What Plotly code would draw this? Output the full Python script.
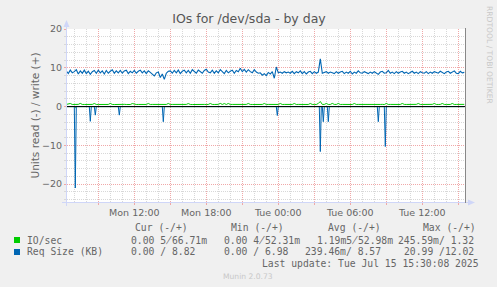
import pandas as pd
import plotly.graph_objects as go

# ---------------- data ----------------
start_time = "2025-07-14 06:20"
n_points = 200  # 10-minute samples up to Tue 15:30

req_write = [
    9.2, 8.5, 9.4, 8.7,
    9.0, 9.5, 8.4, 9.2, 8.6, 9.4,
    8.5, 9.1, 8.3, 9.0, 9.3, 8.6,
    9.4, 8.7, 9.2, 8.4, 9.3, 8.6,
    9.1, 9.5, 8.6, 9.2, 8.7, 9.3,
    8.6, 9.2, 9.4, 8.5, 9.1, 8.7,
    9.3, 8.6, 9.1, 9.4, 8.7, 9.2,
    8.5, 9.2, 8.8, 8.3, 7.9, 8.7,
    8.9, 7.5, 8.4, 7.0, 8.6, 9.1,
    9.2, 8.6, 9.3, 8.7, 9.4, 8.5,
    9.1, 9.4, 8.7, 9.3, 8.6, 9.5,
    9.0, 8.6, 9.4, 9.1, 8.6, 9.3,
    9.6, 8.9, 8.7, 9.4, 8.6, 9.2,
    8.7, 9.5, 9.0, 8.5, 9.3, 8.7,
    9.1, 9.4, 8.6, 9.3, 9.0, 9.9,
    9.0, 9.6, 8.9, 9.5, 9.0, 8.7,
    9.5, 8.9, 8.6, 8.7, 8.1, 8.5,
    8.0, 8.8, 8.4, 9.0, 7.3, 10.2,
    8.7, 8.9, 8.6, 9.0, 8.7, 8.9,
    8.6, 9.1, 8.5, 9.0, 8.7, 9.2,
    8.5, 9.0, 8.4, 8.9, 9.1, 8.5,
    9.0, 8.6, 8.9, 12.3, 8.6, 8.8,
    9.0, 8.6, 8.9, 8.7, 8.5, 9.0,
    8.6, 8.9, 9.1, 8.5, 8.9, 8.6,
    9.1, 8.4, 8.9, 8.6, 9.2, 8.7,
    8.6, 9.0, 8.7, 8.5, 8.9, 8.6,
    9.0, 8.7, 8.3, 8.9, 9.1, 8.6,
    8.7, 9.3, 8.6, 8.9, 8.5, 9.0,
    8.6, 8.9, 9.1, 8.6, 8.9, 8.5,
    8.9, 9.1, 8.6, 8.9, 8.5, 9.0,
    8.7, 8.6, 9.0, 8.5, 8.9, 8.6,
    9.0, 8.7, 8.6, 9.1, 8.7, 8.5,
    8.9, 9.1, 8.6, 8.9, 9.2, 8.6,
    8.5, 9.1, 8.7, 8.82,
]

io_write = [
    0.55, 0.58, 0.80, 0.54,
    0.56, 0.53, 0.57, 0.82, 0.55, 0.54,
    0.58, 0.55, 0.53, 0.56, 0.80, 0.55,
    0.54, 0.57, 0.55, 0.52, 0.56, 0.55,
    0.82, 0.55, 0.53, 0.57, 0.54, 0.56,
    0.55, 0.58, 0.54, 0.56, 0.53, 0.78,
    0.56, 0.54, 0.55, 0.57, 0.53, 0.55,
    0.55, 0.80, 0.54, 0.56, 0.55, 0.53,
    0.57, 0.55, 0.54, 0.56, 0.55, 0.80,
    0.54, 0.56, 0.55, 0.53, 0.57, 0.55,
    0.55, 0.54, 0.56, 0.78, 0.55, 0.53,
    0.56, 0.55, 0.54, 0.57, 0.55, 0.56,
    0.53, 0.55, 0.80, 0.56, 0.54, 0.55,
    0.57, 0.82, 0.55, 0.78, 0.54, 0.80,
    0.55, 0.56, 0.54, 0.55, 0.57, 0.53,
    0.55, 0.54, 0.56, 0.80, 0.55, 0.54,
    0.56, 0.55, 0.53, 0.57, 0.55, 0.80,
    0.54, 0.56, 0.55, 0.53, 0.57, 0.55,
    0.55, 0.80, 0.54, 0.56, 0.55, 0.53,
    0.56, 0.55, 0.80, 0.54, 0.56, 0.55,
    0.53, 0.55, 0.57, 0.54, 0.80, 0.55,
    0.56, 0.54, 0.80, 1.32, 0.55, 0.56,
    0.80, 0.55, 0.54, 0.82, 0.56, 0.55,
    0.80, 0.54, 0.56, 0.55, 0.53, 0.57,
    0.55, 0.54, 0.80, 0.55, 0.56, 0.54,
    0.56, 0.55, 0.53, 0.57, 0.55, 0.54,
    0.55, 0.56, 0.54, 0.55, 0.57, 0.53,
    0.80, 0.55, 0.56, 0.54, 0.55, 0.56,
    0.54, 0.55, 0.80, 0.56, 0.55, 0.53,
    0.56, 0.55, 0.54, 0.57, 0.80, 0.55,
    0.55, 0.54, 0.56, 0.55, 0.53, 0.57,
    0.80, 0.55, 0.54, 0.56, 0.80, 0.55,
    0.54, 0.56, 0.55, 0.80, 0.54, 0.56,
    0.55, 0.54, 0.57, 0.57,
]

# read side (plotted negative): sparse samples
req_read_times = [
    "2025-07-14 06:20", "2025-07-14 07:00", "2025-07-14 07:05", "2025-07-14 07:10",
    "2025-07-14 08:15", "2025-07-14 08:20", "2025-07-14 08:25",
    "2025-07-14 08:40", "2025-07-14 08:45", "2025-07-14 08:50",
    "2025-07-14 10:40", "2025-07-14 10:45", "2025-07-14 10:50",
    "2025-07-14 14:20", "2025-07-14 14:25", "2025-07-14 14:30",
    "2025-07-14 23:50", "2025-07-14 23:55", "2025-07-15 00:00",
    "2025-07-15 03:25", "2025-07-15 03:30", "2025-07-15 03:35",
    "2025-07-15 03:40", "2025-07-15 03:45", "2025-07-15 03:50",
    "2025-07-15 04:05", "2025-07-15 04:10", "2025-07-15 04:15",
    "2025-07-15 08:15", "2025-07-15 08:20", "2025-07-15 08:25",
    "2025-07-15 08:50", "2025-07-15 08:55", "2025-07-15 09:00",
    "2025-07-15 15:30",
]
req_read = [
    0.0, 0.0, 20.99, 0.0,
    0.0, 3.8, 0.0,
    0.0, 2.2, 0.0,
    0.0, 2.2, 0.0,
    0.0, 3.9, 0.0,
    0.0, 2.3, 0.0,
    0.0, 11.6, 0.0,
    0.0, 3.9, 0.0,
    0.0, 3.9, 0.0,
    0.0, 3.9, 0.0,
    0.0, 10.3, 0.0,
    0.0,
]
io_read_times = ["2025-07-14 06:20", "2025-07-14 07:00", "2025-07-14 07:05",
                 "2025-07-14 07:10", "2025-07-15 15:30"]
io_read = [0.0, 0.0, 0.2456, 0.0, 0.0]

tick_vals = ["2025-07-14 09:00", "2025-07-14 12:00", "2025-07-14 15:00",
             "2025-07-14 18:00", "2025-07-14 21:00", "2025-07-15 00:00",
             "2025-07-15 03:00", "2025-07-15 06:00", "2025-07-15 09:00",
             "2025-07-15 12:00", "2025-07-15 15:00"]
tick_text = ["", "Mon 12:00", "", "Mon 18:00", "", "Tue 00:00", "",
             "Tue 06:00", "", "Tue 12:00", ""]

legend_names = ["IO/sec", "Req Size (KB)"]
legend_colors = ["#00cc00", "#0066b3"]
col_headers = ["Cur (-/+)", "Min (-/+)", "Avg (-/+)", "Max (-/+)"]
# U+0338 overlays the slash on the digit, as in the original rendering
row_io = ["0.00 5\u033866.71m", "0.00 4\u033852.31m", "1.19m5\u033852.98m", "245.59m/ 1.32"]
row_req = ["0.00 / 8.82", "0.00 / 6.98", "239.46m/ 8.57", "20.99 /12.02"]

# ---------------- figure ----------------
times = pd.date_range(start_time, periods=n_points, freq="10min")

W, H = 497, 287
L, R, T, B = 67, 465, 29, 202


def px(x):
    return (x - L) / (R - L)


def py(y):
    return (B - y) / (B - T)


fig = go.Figure()
fig.add_trace(go.Scatter(x=pd.to_datetime(io_read_times), y=[-v for v in io_read],
                         mode="lines", line=dict(color=legend_colors[0], width=1)))
fig.add_trace(go.Scatter(x=times, y=io_write, mode="lines",
                         line=dict(color=legend_colors[0], width=1)))
fig.add_trace(go.Scatter(x=pd.to_datetime(req_read_times), y=[-v for v in req_read],
                         mode="lines", line=dict(color=legend_colors[1], width=1)))
fig.add_trace(go.Scatter(x=times, y=req_write, mode="lines",
                         line=dict(color=legend_colors[1], width=1.1)))

FONT = "#666666"
MGRID = "#f0a8a8"
GRID = "#d8d8d8"
AXIS = "#cfd6f8"

fig.update_layout(
    width=W, height=H,
    margin=dict(l=L, r=W - R, t=T, b=H - B, pad=0),
    paper_bgcolor="#f0f0f0", plot_bgcolor="#ffffff",
    showlegend=False,
    font=dict(family="DejaVu Sans", size=9.7, color=FONT),
    title=dict(text="IOs for /dev/sda - by day", x=249 / W, xref="container",
               xanchor="center", y=1 - 19 / H, yanchor="middle", yref="container",
               font=dict(family="DejaVu Sans", size=12.5, color="#555555")),
    xaxis=dict(
        range=["2025-07-14 06:23:30", "2025-07-15 15:33:30"],
        tickmode="array", tickvals=pd.to_datetime(tick_vals), ticktext=tick_text,
        showgrid=True, gridcolor=MGRID, griddash="1px,1px", gridwidth=1,
        ticks="outside", ticklen=2, tickcolor=MGRID,
        minor=dict(tickmode="linear", tick0="2025-07-14 00:00", dtick=3600000,
                   showgrid=True, gridcolor=GRID, griddash="1px,1px", ticks=""),
        zeroline=False, showline=False,
        tickfont=dict(family="DejaVu Sans", size=9.5, color=FONT),
    ),
    yaxis=dict(
        range=[-24.6, 20],
        tickmode="linear", tick0=0, dtick=10,
        showgrid=True, gridcolor=MGRID, griddash="1px,1px", gridwidth=1,
        ticks="outside", ticklen=2, tickcolor=MGRID,
        minor=dict(tickmode="linear", tick0=0, dtick=2, showgrid=True,
                   gridcolor=GRID, griddash="1px,1px", ticks="outside",
                   ticklen=2, tickcolor=GRID),
        zeroline=False, showline=False,
        tickfont=dict(family="DejaVu Sans", size=9.5, color=FONT),
        title=dict(text="Units read (-) / write (+)", standoff=0,
                   font=dict(family="DejaVu Sans", size=10.5, color=FONT)),
    ),
)

shapes = []
# zero rule
shapes.append(dict(type="line", xref="paper", yref="y", x0=0, x1=1, y0=0, y1=0,
                   line=dict(color="#000000", width=1), layer="above"))
# axes with arrows
shapes.append(dict(type="line", xref="paper", yref="paper", x0=px(66.5), x1=px(66.5),
                   y0=py(206), y1=py(24), line=dict(color=AXIS, width=1), layer="above"))
shapes.append(dict(type="path", xref="paper", yref="paper",
                   path=f"M {px(63.5)} {py(27)} L {px(69.5)} {py(27)} L {px(66.5)} {py(20)} Z",
                   fillcolor=AXIS, line=dict(color=AXIS, width=0), layer="above"))
shapes.append(dict(type="line", xref="paper", yref="paper", x0=px(62), x1=px(469),
                   y0=py(202.5), y1=py(202.5), line=dict(color=AXIS, width=1), layer="above"))
shapes.append(dict(type="path", xref="paper", yref="paper",
                   path=f"M {px(468)} {py(199.5)} L {px(468)} {py(205.5)} L {px(475)} {py(202.5)} Z",
                   fillcolor=AXIS, line=dict(color=AXIS, width=0), layer="above"))
# right-edge rule
shapes.append(dict(type="line", xref="paper", yref="paper", x0=px(465.5), x1=px(465.5),
                   y0=py(203), y1=py(28), line=dict(color="#888888", width=1), layer="above"))
# legend squares
for i, c in enumerate(legend_colors):
    yc = 240 + i * 12
    shapes.append(dict(type="rect", xref="paper", yref="paper",
                       x0=px(14), x1=px(20), y0=py(yc - 3), y1=py(yc + 3),
                       fillcolor=c, line=dict(color=c, width=0)))
fig.update_layout(shapes=shapes)

MONO = dict(family="DejaVu Sans Mono", size=9.72, color=FONT)
ann = []


def text(x, y, s, font=MONO, anchor="left", angle=0):
    ann.append(dict(xref="paper", yref="paper", x=px(x), y=py(y), text=s,
                    showarrow=False, xanchor=anchor, yanchor="middle",
                    font=font, textangle=angle, borderpad=0))


hx = [134.7, 230.7, 328, 422.7]
for x, s in zip(hx, col_headers):
    text(x - 1, 227.3, s)
text(26.7 - 1, 240, legend_names[0])
text(26.7 - 1, 251.7, legend_names[1])
io_x = [131.3, 224, 317.3, 398.3]
for x, s in zip(io_x, row_io):
    text(x - 1, 240, s)
req_x = [131.3, 224, 305.3, 404.3]
for x, s in zip(req_x, row_req):
    text(x - 1, 251.7, s)
text(261.7 - 1, 263.5, "Last update: Tue Jul 15 15:30:08 2025")
text(248, 276, "Munin 2.0.73", font=dict(family="DejaVu Sans", size=7.6, color="#c8c8c8"),
     anchor="center")
text(490, 55, "RRDTOOL / TOBI OETIKER",
     font=dict(family="DejaVu Sans", size=7.6, color="#c8c8c8"), anchor="center", angle=90)
fig.update_layout(annotations=ann)

fig.write_html("out.html")
